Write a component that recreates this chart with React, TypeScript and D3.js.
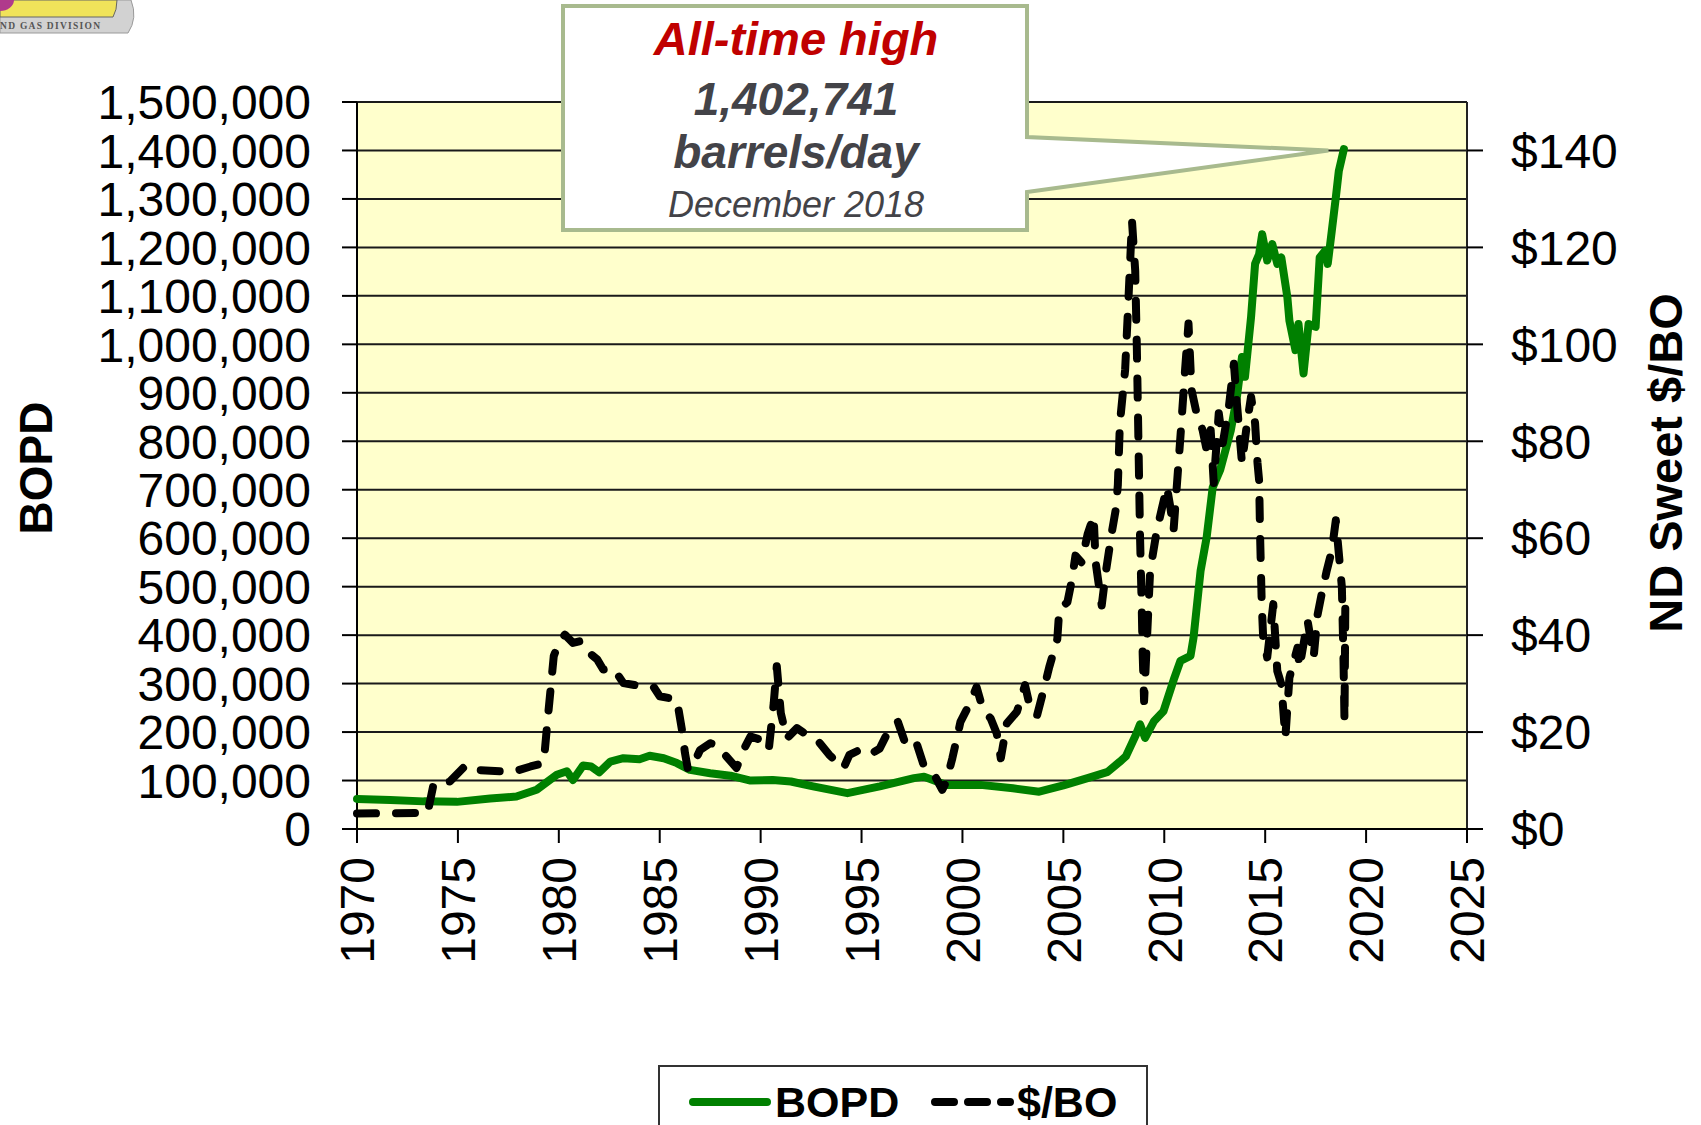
import React from "react";
import * as d3 from "d3";

// ---------- Data ----------
const bopdYears = [
  1970.0, 1971.65, 1973.3, 1974.95, 1976.6, 1977.9, 1978.9, 1979.9, 1980.4, 1980.7,
  1981.2, 1981.6, 1982.0, 1982.55, 1983.2, 1984.0, 1984.5, 1985.2, 1985.85, 1986.5,
  1987.5, 1988.5, 1989.5, 1990.6, 1991.5, 1992.6, 1994.3, 1995.9, 1997.6, 1998.1,
  1999.2, 2000.9, 2002.5, 2003.8, 2005.0, 2006.2, 2007.2, 2007.8, 2008.1, 2008.6,
  2008.8, 2009.05, 2009.5, 2009.96, 2010.5, 2010.8, 2011.3, 2011.45, 2011.8, 2012.1,
  2012.4, 2012.77, 2013.3, 2013.6, 2013.85, 2014.0, 2014.3, 2014.5, 2014.7, 2014.85,
  2015.1, 2015.35, 2015.6, 2015.8, 2016.1, 2016.2, 2016.5, 2016.65, 2016.9, 2017.15,
  2017.5, 2017.7, 2017.97, 2018.1, 2018.3, 2018.5, 2018.65, 2018.9,
];
const bopdValues = [
  62000, 60000, 57000, 56000, 63000, 67000, 81000, 112000, 119000, 101000,
  131000, 129000, 117000, 139000, 146000, 144000, 151000, 146000, 136000, 122000,
  115000, 110000, 100000, 101000, 98000, 88000, 74000, 88000, 105000, 108000,
  91000, 91000, 84000, 77000, 90000, 105000, 118000, 139000, 150000, 195000,
  216000, 188000, 223000, 243000, 312000, 347000, 357000, 395000, 533000, 602000,
  705000, 741000, 823000, 892000, 974000, 933000, 1056000, 1166000, 1186000, 1227000,
  1173000, 1207000, 1166000, 1179000, 1097000, 1049000, 988000, 1042000, 940000, 1042000,
  1036000, 1179000, 1193000, 1166000, 1234000, 1303000, 1358000, 1402741,
];

const priceYears = [
  1970.0, 1973.5, 1973.8, 1974.6, 1975.4, 1975.9, 1977.1, 1977.8, 1978.6, 1979.25,
  1979.4, 1979.75, 1980.0, 1980.3, 1980.7, 1981.1, 1981.4, 1981.9, 1982.2, 1982.7,
  1983.2, 1983.9, 1984.7, 1985.0, 1985.85, 1986.1, 1986.25, 1986.4, 1986.7, 1987.0,
  1987.5, 1987.8, 1988.3, 1988.8, 1989.2, 1989.5, 1990.0, 1990.4, 1990.65, 1990.8,
  1991.0, 1991.3, 1991.8, 1992.3, 1992.8, 1993.4, 1994.1, 1994.4, 1994.9, 1995.4,
  1995.9, 1996.4, 1996.8, 1997.2, 1997.7, 1998.1, 1998.6, 1999.0, 1999.2, 1999.5,
  1999.9, 2000.4, 2000.7, 2001.0, 2001.4, 2001.7, 2001.9, 2002.2, 2002.7, 2003.1,
  2003.4, 2003.7, 2004.0, 2004.3, 2004.7, 2004.8, 2005.2, 2005.4, 2005.6, 2005.9,
  2006.2, 2006.5, 2006.6, 2006.9, 2007.1, 2007.4, 2007.6, 2007.7, 2007.8, 2008.06,
  2008.2, 2008.4, 2008.56, 2008.64, 2008.72, 2008.8, 2008.88, 2008.93, 2009.0, 2009.3,
  2009.63, 2010.13, 2010.3, 2010.46, 2010.8, 2011.03, 2011.2, 2011.35, 2011.6, 2011.9,
  2012.1, 2012.3, 2012.45, 2012.7, 2012.9, 2013.2, 2013.45, 2013.6, 2013.85, 2014.1,
  2014.3, 2014.5, 2014.62, 2014.7, 2014.75, 2014.83, 2014.9, 2015.1, 2015.4, 2015.6,
  2015.8, 2016.0, 2016.2, 2016.6, 2016.7, 2017.1, 2017.4, 2017.6, 2017.8, 2018.05,
  2018.3, 2018.5, 2018.65, 2018.8, 2018.88, 2018.93, 2018.97,
];
const priceValues = [
  3.2, 3.3, 9.4, 9.8, 13.2, 12.2, 11.9, 11.9, 12.9, 13.6,
  20.5, 35.7, 38.4, 40.1, 38.4, 38.8, 36.7, 35.0, 32.9, 33.2,
  30.1, 29.6, 29.3, 27.4, 26.7, 20.5, 15.7, 12.2, 13.6, 16.3,
  17.7, 17.4, 15.0, 12.6, 16.7, 19.1, 18.4, 16.3, 26.0, 33.6,
  23.9, 18.7, 20.8, 19.4, 18.4, 15.3, 12.5, 15.3, 16.3, 15.3,
  16.6, 20.8, 22.1, 17.3, 18.0, 12.9, 11.2, 8.1, 9.8, 14.6,
  22.1, 26.2, 29.3, 24.9, 22.8, 19.7, 14.6, 21.8, 24.2, 29.7,
  24.2, 23.5, 28.3, 33.4, 39.2, 45.4, 46.8, 50.9, 56.4, 55.0,
  60.8, 64.6, 55.0, 46.1, 52.9, 61.2, 66.0, 71.0, 83.7, 94.7,
  107.0, 125.5, 115.2, 99.5, 80.0, 60.2, 46.4, 36.1, 26.4, 53.3,
  61.6, 70.6, 66.4, 61.6, 80.9, 94.7, 104.3, 90.6, 85.8, 82.3,
  78.2, 82.3, 71.4, 85.8, 79.6, 87.1, 96.0, 87.8, 75.5, 83.7,
  89.2, 83.7, 75.5, 71.9, 60.2, 46.4, 39.5, 35.4, 46.4, 32.6,
  29.9, 18.9, 31.2, 37.4, 33.3, 43.0, 35.4, 44.3, 48.5, 53.3,
  57.4, 63.7, 56.8, 49.9, 35.0, 22.3, 45.7,
];

const yearTicks = [1970, 1975, 1980, 1985, 1990, 1995, 2000, 2005, 2010, 2015, 2020, 2025];
const bopdTicks = d3.range(0, 1500001, 100000);
const priceTicks = [0, 20, 40, 60, 80, 100, 120, 140];

const calloutLines = ["All-time high", "1,402,741", "barrels/day", "December 2018"];
const calloutTip = { year: 2018.13, value: 1400000 };

const FONT = "'Liberation Sans', Arial, sans-serif";

const App: React.FC = () => {
  const W = 1701;
  const H = 1125;
  const left = 357;
  const right = 1467;
  const top = 102;
  const bottom = 829;

  const x = d3.scaleLinear().domain([1970, 2025]).range([left, right]);
  const yL = d3.scaleLinear().domain([0, 1500000]).range([bottom, top]);
  const yR = d3.scaleLinear().domain([0, 150]).range([bottom, top]);

  const bopd = bopdYears.map((yr, i) => ({ yr, v: bopdValues[i] }));
  const price = priceYears.map((yr, i) => ({ yr, v: priceValues[i] }));

  const bopdLine = d3
    .line<{ yr: number; v: number }>()
    .x((d) => x(d.yr))
    .y((d) => yL(d.v));
  const priceLine = d3
    .line<{ yr: number; v: number }>()
    .x((d) => x(d.yr))
    .y((d) => yR(d.v));

  const fmt = d3.format(",");

  // callout box
  const box = { x0: 563, y0: 6, x1: 1027, y1: 230 };
  const tipX = x(calloutTip.year);
  const tipY = yL(calloutTip.value);
  const calloutPath = `M${box.x0},${box.y0} H${box.x1} V137 L${tipX},${tipY} L${box.x1},192 V${box.y1} H${box.x0} Z`;
  const cx = 796;

  return (
    <svg
      width={W}
      height={H}
      style={{ position: "absolute", left: 0, top: 0, background: "#fff" }}
      fontFamily={FONT}
    >
      {/* partial logo in the corner */}
      <g>
        <path d="M0,0 H131 Q138,18 128,33 H0 Z" fill="#d2d2d2" stroke="#9a9a9a" strokeWidth={1} />
        <path d="M0,0 H117 Q117,10 113,17 H0 Z" fill="#f0e35a" stroke="#666" strokeWidth={1} />
        <ellipse cx={0} cy={0} rx={14} ry={11} fill="#b03a8c" />
        <text x={0} y={29} fontFamily="'Liberation Serif', serif" fontWeight="bold" fontSize={9.5} fill="#555" textLength={100}>
          ND GAS DIVISION
        </text>
      </g>

      {/* plot background */}
      <rect x={left} y={top} width={right - left} height={bottom - top} fill="#FFFFCC" />

      {/* gridlines */}
      {bopdTicks.map((t) => (
        <line key={"g" + t} x1={left} x2={right} y1={yL(t)} y2={yL(t)} stroke="#1a1a1a" strokeWidth={2} />
      ))}

      {/* left axis */}
      <line x1={left} x2={left} y1={top} y2={bottom} stroke="#000" strokeWidth={2} />
      {bopdTicks.map((t) => (
        <g key={"l" + t}>
          <line x1={left - 15} x2={left} y1={yL(t)} y2={yL(t)} stroke="#000" strokeWidth={2} />
          <text x={311} y={yL(t)} dy="0.36em" textAnchor="end" fontSize={48} fill="#000">
            {fmt(t)}
          </text>
        </g>
      ))}

      {/* right axis */}
      <line x1={right} x2={right} y1={top} y2={bottom} stroke="#222" strokeWidth={2} />
      {priceTicks.map((t) => (
        <g key={"r" + t}>
          <line x1={right} x2={right + 16} y1={yR(t)} y2={yR(t)} stroke="#000" strokeWidth={2} />
          <text x={1511} y={yR(t)} dy="0.36em" textAnchor="start" fontSize={48} fill="#000">
            {"$" + t}
          </text>
        </g>
      ))}

      {/* bottom axis */}
      <line x1={left} x2={right} y1={bottom} y2={bottom} stroke="#000" strokeWidth={2} />
      {yearTicks.map((t) => (
        <g key={"x" + t}>
          <line x1={x(t)} x2={x(t)} y1={bottom} y2={bottom + 14} stroke="#000" strokeWidth={2} />
          <text
            transform={`translate(${x(t)},857) rotate(-90)`}
            dy="0.36em"
            textAnchor="end"
            fontSize={48}
            fill="#000"
          >
            {t}
          </text>
        </g>
      ))}

      {/* axis titles */}
      <text transform="translate(35,468) rotate(-90)" dy="0.36em" textAnchor="middle" fontSize={46} fontWeight="bold">
        BOPD
      </text>
      <text transform="translate(1665,463) rotate(-90)" dy="0.36em" textAnchor="middle" fontSize={47} fontWeight="bold">
        ND Sweet $/BO
      </text>

      {/* series */}
      <path d={bopdLine(bopd) ?? ""} fill="none" stroke="#008000" strokeWidth={8} strokeLinejoin="round" strokeLinecap="round" />
      <path
        d={priceLine(price) ?? ""}
        fill="none"
        stroke="#000"
        strokeWidth={8}
        strokeDasharray="19 20"
        strokeLinecap="round"
        strokeLinejoin="round"
      />

      {/* callout */}
      <path d={calloutPath} fill="#fff" stroke="#A8BA8E" strokeWidth={4} strokeLinejoin="miter" />
      <text x={cx} y={55} textAnchor="middle" fontSize={47} fontWeight="bold" fontStyle="italic" fill="#C00000">
        {calloutLines[0]}
      </text>
      <text x={cx} y={115} textAnchor="middle" fontSize={46} fontWeight="bold" fontStyle="italic" fill="#434348">
        {calloutLines[1]}
      </text>
      <text x={cx} y={168} textAnchor="middle" fontSize={46} fontWeight="bold" fontStyle="italic" fill="#434348">
        {calloutLines[2]}
      </text>
      <text x={cx} y={217} textAnchor="middle" fontSize={36} fontStyle="italic" fill="#434348">
        {calloutLines[3]}
      </text>

      {/* legend */}
      <rect x={659} y={1066} width={488} height={80} fill="#fff" stroke="#333" strokeWidth={2} />
      <line x1={693} x2={767} y1={1102} y2={1102} stroke="#008000" strokeWidth={8} strokeLinecap="round" />
      <text x={775} y={1117} fontSize={43} fontWeight="bold" fill="#000">
        BOPD
      </text>
      <line
        x1={935}
        x2={1010}
        y1={1102}
        y2={1102}
        stroke="#000"
        strokeWidth={8}
        strokeDasharray="19 14"
        strokeLinecap="round"
      />
      <text x={1017} y={1117} fontSize={43} fontWeight="bold" fill="#000">
        $/BO
      </text>
    </svg>
  );
};

export default App;
